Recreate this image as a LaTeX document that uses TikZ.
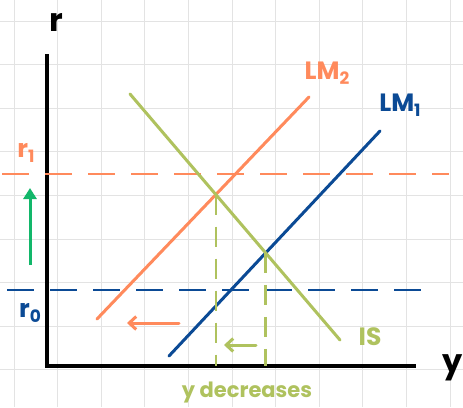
\documentclass[tikz,border=0pt]{standalone}
\usepackage{fontspec}
\setmainfont{Poppins}
\usepackage{xcolor}
\definecolor{lmorange}{RGB}{255,138,92}
\definecolor{lmblue}{RGB}{11,74,149}
\definecolor{isolive}{RGB}{175,194,94}
\definecolor{upgreen}{RGB}{18,183,106}
\usepackage{tikz}
\usetikzlibrary{arrows.meta, intersections}
\newcommand{\lowidx}[1]{\raisebox{-0.35ex}{\fontsize{17}{17}\selectfont #1}}

\begin{document}
\begin{tikzpicture}[
    x=1pt, y=-1pt,
    >={Straight Barb[length=7pt, width=13pt]},
    gridline/.style={draw=gray!22, line width=0.9pt},
    axisline/.style={draw=black, line width=3.5pt},
    curve/.style={line width=3pt, line cap=round},
    guide/.style={line width=2.6pt, dash pattern=on 27pt off 16pt},
    dropline/.style={draw=isolive, line width=2.6pt, dash pattern=on 20pt off 12pt},
    lbl/.style={font=\fontsize{25}{25}\selectfont\bfseries, inner sep=0pt}
  ]
  \useasboundingbox (0,0) rectangle (463,407);
  \fill[white] (0,0) rectangle (463,407);

  % grid paper
  \foreach \k in {0,...,10}
    \draw[gridline] ({14+43.6*\k},0) -- ({14+43.6*\k},407);
  \foreach \k in {0,...,8}
    \draw[gridline] (0,{21+43.6*\k}) -- (463,{21+43.6*\k});

  % axes
  \coordinate (rtop) at (47,54);
  \coordinate (O) at (47,366);
  \coordinate (yend) at (416,366);
  \draw[axisline] (rtop) -- (O) -- (yend);
  \node[lbl, font=\fontsize{32}{32}\selectfont\bfseries] (rlab) at (56,22) {r};
  \node[lbl, font=\fontsize{32}{32}\selectfont\bfseries] (ylab) at (453,368) {y};

  % interest rate levels
  \coordinate (r1a) at (2,174);
  \coordinate (r1b) at (449,174);
  \draw[guide, lmorange] (r1a) -- (r1b);
  \node[lbl, text=lmorange] (r1lab) at (26,153) {r\lowidx{1}};
  \coordinate (r0a) at (7,290);
  \coordinate (r0b) at (436,290);
  \draw[guide, lmblue] (r0a) -- (r0b);
  \node[lbl, text=lmblue] (r0lab) at (30,313) {r\lowidx{0}};

  % rate goes up
  \coordinate (upa) at (30,265);
  \coordinate (upb) at (30,188);
  \draw[upgreen, line width=3pt, -{Triangle[length=11pt, width=13pt]}] (upa) -- (upb);

  % curves
  \coordinate (lm2a) at (97,319);
  \coordinate (lm2b) at (309,97);
  \coordinate (lm1a) at (169,356);
  \coordinate (lm1b) at (380,131);
  \coordinate (isa) at (130,94);
  \coordinate (isb) at (340,340);
  \draw[curve, lmorange, name path=lm2] (lm2a) -- (lm2b);
  \draw[curve, lmblue, name path=lm1] (lm1a) -- (lm1b);
  \draw[curve, isolive, name path=is] (isa) -- (isb);
  \node[lbl, text=lmorange] (lm2lab) at (327,73) {LM\lowidx{2}};
  \node[lbl, text=lmblue] (lm1lab) at (400,105) {LM\lowidx{1}};
  \node[lbl, text=isolive] (islab) at (370,337) {IS};

  % equilibria
  \path[name intersections={of=is and lm2, by=E2}];
  \path[name intersections={of=is and lm1, by=E1}];
  \draw[dropline] (E2) -- (E2 |- O);
  \draw[dropline] (E1) -- (E1 |- O);

  % shifts
  \coordinate (lsa) at (179,323);
  \coordinate (lsb) at (127,323);
  \draw[->, lmorange, line width=3pt, line cap=round] (lsa) -- (lsb);
  \coordinate (ysa) at (256,345);
  \coordinate (ysb) at (224,345);
  \draw[->, isolive, line width=3pt, line cap=round] (ysa) -- (ysb);
  \node[lbl, text=isolive, font=\fontsize{21}{21}\selectfont\bfseries] (ydec) at (247,393) {y decreases};

\end{tikzpicture}
\end{document}
